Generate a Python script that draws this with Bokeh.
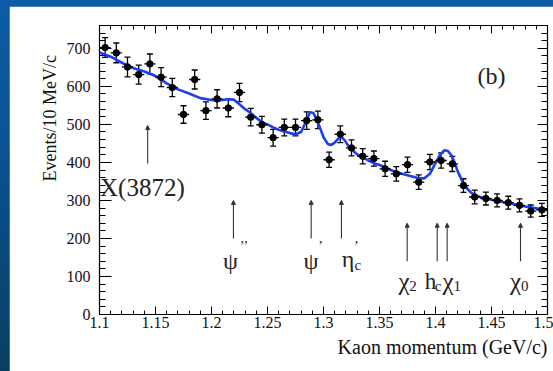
from bokeh.plotting import figure
from bokeh.models import (ColumnDataSource, Whisker, TeeHead, Arrow, NormalHead, Label, Title,
                          LinearAxis, FixedTicker, Range1d, GlobalInlineStyleSheet)
from bokeh.embed import file_html
from bokeh.resources import INLINE

# ---------------- data ----------------
momentum = [1.105, 1.115, 1.125, 1.135, 1.145, 1.155, 1.165, 1.175, 1.185, 1.195,
            1.205, 1.215, 1.225, 1.235, 1.245, 1.255, 1.265, 1.275, 1.285, 1.295,
            1.305, 1.315, 1.325, 1.335, 1.345, 1.355, 1.365, 1.375, 1.385, 1.395,
            1.405, 1.415, 1.425, 1.435, 1.445, 1.455, 1.465, 1.475, 1.485, 1.495]
events = [702, 688, 651, 631, 659, 624, 597, 526, 618, 536,
          567, 543, 584, 519, 499, 465, 492, 492, 510, 512,
          407, 474, 438, 416, 410, 383, 370, 394, 348, 401,
          405, 396, 339, 309, 305, 300, 294, 287, 272, 275]
errors = [26, 26, 26, 25, 26, 25, 24, 23, 25, 23,
          24, 23, 24, 23, 22, 22, 22, 22, 23, 23,
          20, 22, 21, 20, 20, 20, 19, 20, 19, 20,
          20, 20, 18, 18, 17, 17, 17, 17, 16, 17]
bin_half = 0.005

fit_p = [1.100, 1.110, 1.120, 1.130, 1.140, 1.150, 1.160, 1.170, 1.180, 1.190,
         1.200, 1.205, 1.210, 1.215, 1.220, 1.225, 1.230, 1.235, 1.240, 1.245,
         1.250, 1.255, 1.260, 1.265, 1.270, 1.275, 1.280, 1.284, 1.288, 1.291,
         1.294, 1.297, 1.300, 1.304, 1.307, 1.310, 1.313, 1.316, 1.319, 1.322,
         1.326, 1.330, 1.335, 1.340, 1.345, 1.350, 1.355, 1.360, 1.365, 1.370,
         1.375, 1.380, 1.385, 1.390, 1.395, 1.400, 1.404, 1.408, 1.411, 1.414,
         1.417, 1.420, 1.424, 1.428, 1.432, 1.436, 1.440, 1.450, 1.460, 1.470,
         1.480, 1.490, 1.500]
fit_n = [689, 678, 662, 648, 639, 627, 608, 592, 581, 569,
         564, 563, 564, 566, 565, 553, 540, 530, 517, 506,
         500, 492, 486, 481, 477, 474, 480, 505, 532, 530,
         512, 490, 466, 448, 446, 452, 462, 467, 458, 444,
         432, 421, 414, 405, 398, 393, 387, 380, 375, 370,
         366, 362, 358, 358, 370, 398, 420, 432, 430, 420,
         400, 375, 350, 332, 320, 313, 309, 302, 296, 290,
         284, 279, 274]

marker_x = [1.143, 1.2196, 1.289, 1.316, 1.3747, 1.4015, 1.4104, 1.4759]
marker_tip = [497, 300, 300, 300, 240, 240, 240, 240]
marker_base = [397, 200, 200, 200, 140, 140, 140, 140]

x_ticks = [1.1, 1.15, 1.2, 1.25, 1.3, 1.35, 1.4, 1.45, 1.5]
x_tick_labels = ["1.1", "1.15", "1.2", "1.25", "1.3", "1.35", "1.4", "1.45", "1.5"]
y_ticks = [0, 100, 200, 300, 400, 500, 600, 700]

x_title = "Kaon momentum (GeV/c)"
y_title = "Events/10 MeV/c"

# ---------------- figure ----------------
SERIF = "Liberation Serif"
p = figure(width=544, height=365, output_backend="svg", toolbar_location=None,
           x_range=Range1d(1.1, 1.5), y_range=Range1d(0, 760),
           min_border_left=90, min_border_right=6, min_border_top=19, min_border_bottom=57,
           background_fill_color="white", border_fill_color="white",
           x_axis_location=None, y_axis_location=None)
p.outline_line_color = "black"
p.outline_line_width = 1.2
p.grid.visible = False
p.stylesheets = [GlobalInlineStyleSheet(css="""
html, body { background: linear-gradient(to bottom, #0d5ca6 0%, #0a5190 45%, #073f60 100%); }
body { margin: 0 !important; padding: 6px 0 0 9px !important; box-sizing: border-box; overflow: hidden; }
""")]

xt = FixedTicker(ticks=x_ticks, minor_ticks=[round(1.1 + 0.01 * i, 3) for i in range(41)])
yt = FixedTicker(ticks=y_ticks, minor_ticks=[20 * i for i in range(39)])


def style_axis(ax, tin, mtin, labels=True):
    ax.axis_line_color = "black"
    ax.major_tick_line_color = "black"
    ax.minor_tick_line_color = "black"
    ax.major_tick_in = tin
    ax.major_tick_out = 0
    ax.minor_tick_in = mtin
    ax.minor_tick_out = 0
    ax.major_label_text_font = SERIF
    ax.major_label_text_font_size = "16px" if labels else "0px"
    ax.major_label_text_color = "#111111"
    if not labels:
        ax.major_label_standoff = 0


bx = LinearAxis(ticker=xt)
style_axis(bx, 8, 4)
bx.major_label_overrides = {t: s for t, s in zip(x_ticks, x_tick_labels)}
bx.major_label_standoff = 2
p.add_layout(bx, "below")
p.add_layout(Title(text=x_title, align="right", text_font=SERIF, text_font_size="20px",
                   text_font_style="normal", text_color="#111111", standoff=7), "below")

tx = LinearAxis(ticker=xt)
style_axis(tx, 8, 4, labels=False)
p.add_layout(tx, "above")

ly = LinearAxis(ticker=yt)
style_axis(ly, 12, 6)
ly.major_label_standoff = 9
p.add_layout(ly, "left")
# trailing no-break spaces push the top-aligned title down to the frame's top edge
p.add_layout(Title(text=y_title + "\u00a0\u00a0\u00a0", align="right", text_font=SERIF,
                   text_font_size="18px", text_font_style="normal", text_color="#111111",
                   standoff=8, offset=16), "left")

ry = LinearAxis(ticker=yt)
style_axis(ry, 10, 6, labels=False)
p.add_layout(ry, "right")

# ---------------- data marks ----------------
src = ColumnDataSource(dict(
    x=momentum, y=events,
    lo=[v - e for v, e in zip(events, errors)],
    hi=[v + e for v, e in zip(events, errors)],
    xl=[m - bin_half for m in momentum],
    xr=[m + bin_half for m in momentum],
))

p.line(fit_p, fit_n, line_color="#1e3df5", line_width=2.6)

p.segment(x0="xl", y0="y", x1="xr", y1="y", source=src, line_color="black", line_width=1.3)
p.add_layout(Whisker(base="x", lower="lo", upper="hi", source=src, dimension="height",
                     line_color="black", line_width=1.3,
                     lower_head=TeeHead(size=6, line_color="black", line_width=1.3),
                     upper_head=TeeHead(size=6, line_color="black", line_width=1.3)))
p.scatter(x="x", y="y", source=src, size=6.5, color="black")

# ---------------- arrows ----------------
asrc = ColumnDataSource(dict(x=marker_x, t=marker_tip, b=marker_base))
p.add_layout(Arrow(x_start="x", y_start="b", x_end="x", y_end="t", source=asrc,
                   line_color="#333333", line_width=1.1,
                   end=NormalHead(size=4, fill_color="#333333", line_color="#333333")))

# ---------------- texts ----------------
def lab(x, y, text, size, align="center", baseline="alphabetic"):
    p.add_layout(Label(x=x, y=y, text=text, text_font=SERIF, text_font_size=size,
                       text_align=align, text_baseline=baseline, text_color="#222222"))

lab(1.1005, 334, "X(3872)", "25px", align="left")
# psi''
lab(1.2170, 139.5, "ψ", "24px")
lab(1.2290, 199, "’’", "14px", baseline="top")
# psi'
lab(1.2888, 139.5, "ψ", "24px")
lab(1.2975, 199, "’", "14px", baseline="top")
# eta_c'
lab(1.3219, 145, "η", "24px")
lab(1.3306, 129, "c", "15px")
lab(1.3294, 199, "’", "14px", baseline="top")
# chi2, h_c, chi1, chi0
lab(1.3719, 87, "χ", "25px")
lab(1.3800, 74, "2", "15px")
lab(1.3955, 87, "h", "23px")
lab(1.4022, 76, "c", "15px")
lab(1.4112, 87, "χ", "25px")
lab(1.4194, 74, "1", "15px")
lab(1.4714, 87, "χ", "25px")
lab(1.4796, 74, "0", "15px")
# panel tag
lab(1.450, 626, "(b)", "24px")

open("out.html", "w").write(file_html(p, INLINE))
